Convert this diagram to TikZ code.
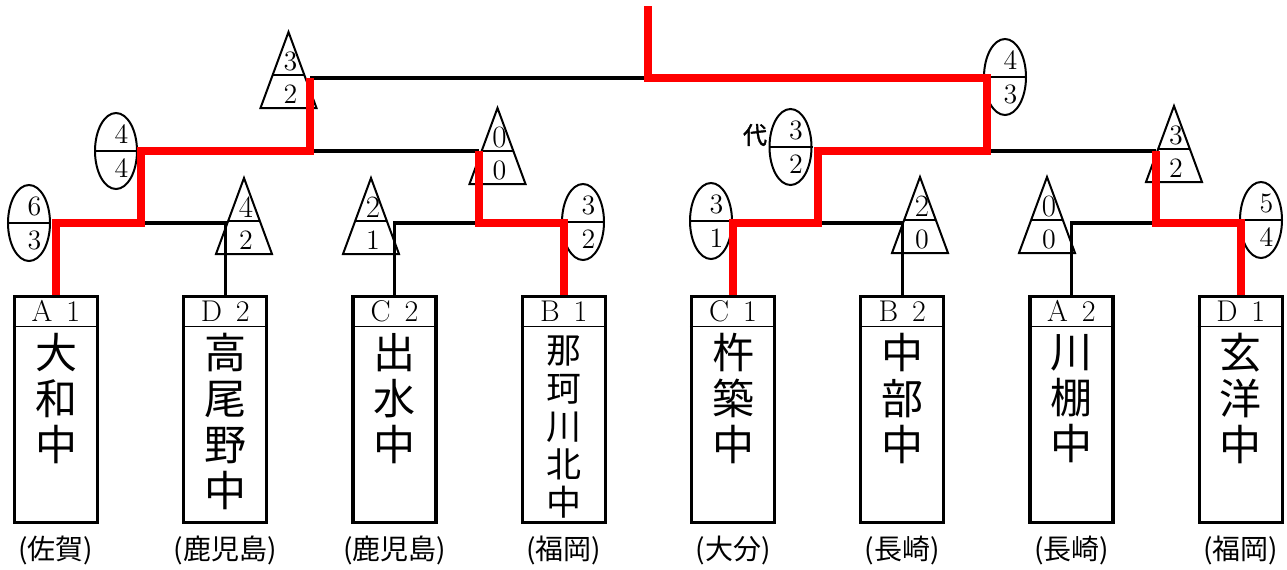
\documentclass[tikz,border=0pt]{standalone}
\usepackage{fontspec}
\newfontfamily\jp{Noto Sans CJK JP}
\newfontfamily\jpb[FakeBold=1.5]{Noto Sans CJK JP}
\usetikzlibrary{calc,shapes.geometric}
\definecolor{winred}{RGB}{255,0,0}
\newcommand\mkteam[6]{%
  \node[teambox] (t#1) at (#2,409.5) {};
  \draw[hdiv] ($(t#1.north west)+(0,31.5)$) -- ($(t#1.north east)+(0,31.5)$);
  \node[hdr] (h#1) at ($(t#1.north)+(0,16.5)$) {#3};
  \node[#6] (n#1) at (#2,#5) {#4};
}
\newcommand\mkpref[3]{\node[pref] (p#1) at (#2,550) {#3};}
\newcommand\ebadge[5]{%
  \node[ebad] (#1) at (#2,#3) {};
  \draw[bdiv] (#1.west) -- (#1.east);
  \node[num] (#1a) at ($(#1)+(5.5,-17)$) {#4};
  \node[num] (#1b) at ($(#1)+(5.5,17)$) {#5};
}
\newcommand\tbadge[6]{%
  \coordinate (#1) at (#2,#3);
  \draw[tri] ($(#1)+(0,-43)$) -- ($(#1)+(28,33)$) -- ($(#1)+(-28,33)$) -- cycle;
  \draw[bdiv] ($(#1)+(-15.8,0)$) -- ($(#1)+(15.8,0)$);
  \node[#6] (#1a) at ($(#1)+(2,-14)$) {#4};
  \node[num] (#1b) at ($(#1)+(2,19)$) {#5};
}
\begin{document}
\begin{tikzpicture}[x=0.5pt,y=-0.5pt,
  blk/.style={line width=1.65pt,line join=miter},
  redl/.style={draw=winred,line width=4pt,line join=miter},
  teambox/.style={draw,line width=1.65pt,minimum width=41.5pt,minimum height=113pt,inner sep=0pt},
  hdiv/.style={line width=0.6pt},
  bdiv/.style={line width=0.7pt},
  ebad/.style={draw,ellipse,line width=1pt,minimum width=21pt,minimum height=38pt,inner sep=0pt},
  tri/.style={line width=1pt,line join=miter},
  num/.style={font=\fontsize{14}{14}\selectfont,inner sep=0pt},
  numb/.style={font=\fontsize{15.5}{15.5}\selectfont,inner sep=0pt},
  hdr/.style={font=\fontsize{15}{15}\selectfont,inner sep=0pt},
  pref/.style={font=\jp\fontsize{14}{14}\selectfont,inner sep=0pt},
  nameA/.style={font=\jp\fontsize{21}{23}\selectfont,align=center,inner sep=0pt},
  nameB/.style={font=\jp\fontsize{17.5}{19.1}\selectfont,align=center,inner sep=0pt},
  dai/.style={font=\jpb\fontsize{12}{12}\selectfont,inner sep=0pt}]
\useasboundingbox (0,0) rectangle (1287,569);

% teams
\mkteam{1}{56}{A\hspace{7pt}1}{大\\和\\中}{398.5}{nameA}
\mkteam{2}{225.25}{D\hspace{7pt}2}{高\\尾\\野\\中}{421}{nameA}
\mkteam{3}{394.5}{C\hspace{7pt}2}{出\\水\\中}{398.5}{nameA}
\mkteam{4}{563.75}{B\hspace{7pt}1}{那\\珂\\川\\北\\中}{427}{nameB}
\mkteam{5}{733}{C\hspace{7pt}1}{杵\\築\\中}{398.5}{nameA}
\mkteam{6}{902.25}{B\hspace{7pt}2}{中\\部\\中}{398.5}{nameA}
\mkteam{7}{1071.5}{A\hspace{7pt}2}{川\\棚\\中}{398.5}{nameA}
\mkteam{8}{1240.75}{D\hspace{7pt}1}{玄\\洋\\中}{398.5}{nameA}

\mkpref{1}{56}{(佐賀)}
\mkpref{2}{225.25}{(鹿児島)}
\mkpref{3}{394.5}{(鹿児島)}
\mkpref{4}{563.75}{(福岡)}
\mkpref{5}{733}{(大分)}
\mkpref{6}{902.25}{(長崎)}
\mkpref{7}{1071.5}{(長崎)}
\mkpref{8}{1240.75}{(福岡)}

% badges
\ebadge{e1}{29}{223}{6}{3}
\tbadge{b1}{244}{221}{4}{2}{numb}
\tbadge{b2}{371}{221}{2}{1}{numb}
\ebadge{e3}{583}{222}{3}{2}
\ebadge{e2}{116}{151}{4}{4}
\tbadge{b3}{497.5}{151}{0}{0}{numb}
\tbadge{b4}{288.5}{75}{3}{2}{num}
\ebadge{e4}{1005}{77}{4}{3}
\ebadge{e5}{790.5}{147}{3}{2}
\node[dai] (daiko) at (755,135) {代};
\tbadge{b7}{1174}{149}{3}{2}{num}
\ebadge{e6}{711}{221}{3}{1}
\tbadge{b5}{920}{220}{2}{0}{numb}
\tbadge{b6}{1047}{220}{0}{0}{numb}
\ebadge{e7}{1261}{220}{5}{4}

% junctions
\coordinate (m1) at (140.6,223);
\coordinate (m2) at (479,223);
\coordinate (m3) at (817.6,223);
\coordinate (m4) at (1156,223);
\coordinate (s1) at (310,151);
\coordinate (s2) at (986.8,151);
\coordinate (fin) at (648,78);
\coordinate (top) at (648,6);

% black (losing) lines
\draw[blk] (t2.north) |- (m1);
\draw[blk] (t3.north) |- (m2);
\draw[blk] (t6.north) |- (m3);
\draw[blk] (t7.north) |- (m4);
\draw[blk] (s1) -- (m2 |- s1);
\draw[blk] (s2) -- (m4 |- s2);
\draw[blk] (s1 |- fin) -- (fin);

% red (winning) lines
\draw[redl] (t1.north) |- (m1) -- (m1 |- s1) -- (s1) -- (s1 |- fin);
\draw[redl] (t4.north) |- (m2) -- (m2 |- s1);
\draw[redl] (t8.north) |- (m4) -- (m4 |- s2);
\draw[redl] (t5.north) |- (m3) -- (m3 |- s2) -- (s2) -- (s2 |- fin) -- (fin) -- (top);
\end{tikzpicture}
\end{document}
